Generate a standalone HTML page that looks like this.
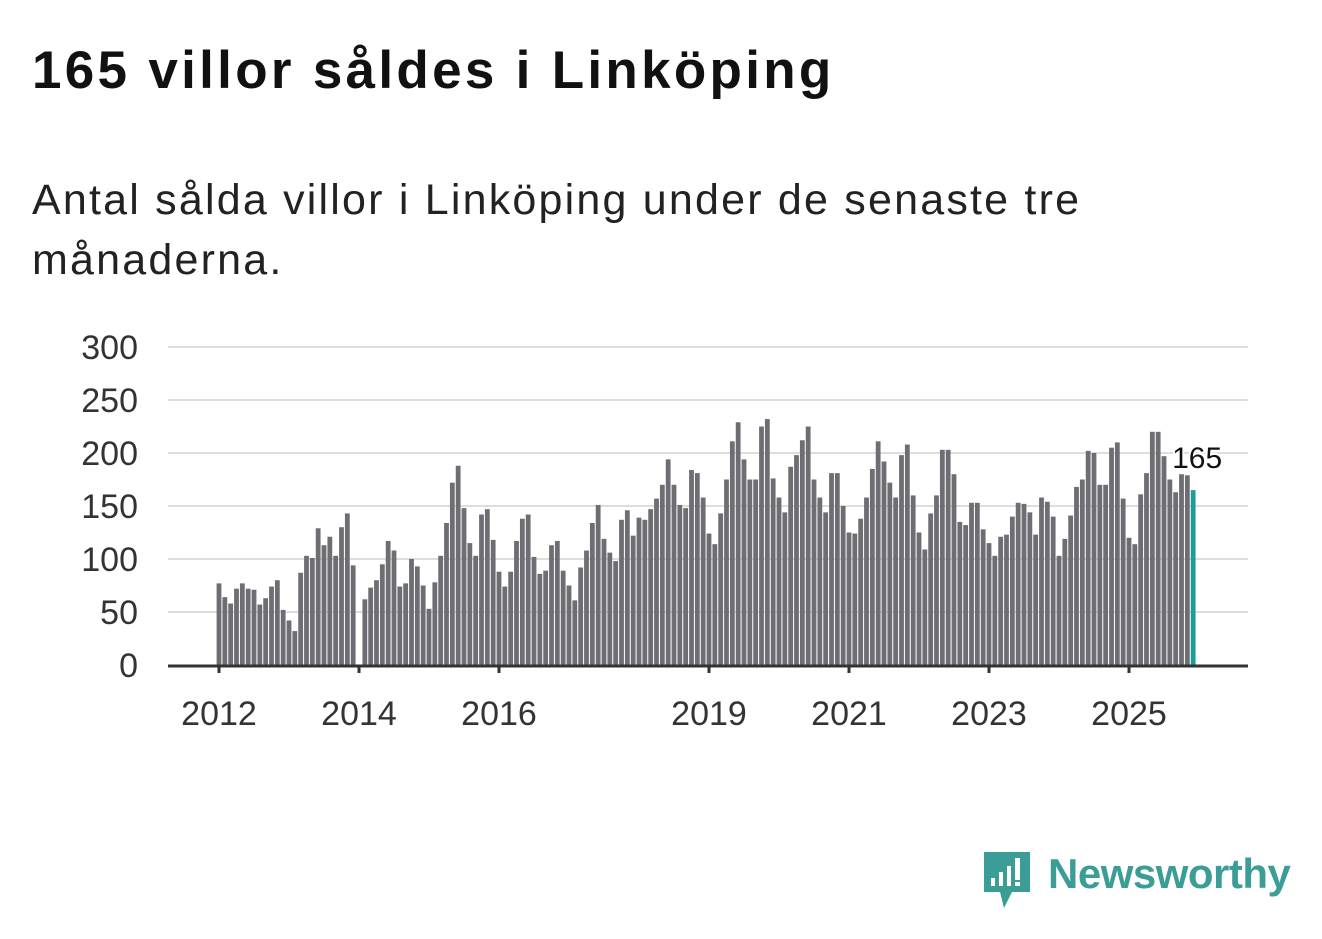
<!DOCTYPE html>
<html><head><meta charset="utf-8"><style>
body{margin:0;background:#fff;width:1322px;height:939px;overflow:hidden;font-family:"Liberation Sans","DejaVu Sans",sans-serif;}
#title{position:absolute;left:32px;top:40px;font-size:53px;font-weight:bold;color:#111;margin:0;letter-spacing:3.3px}
#sub{position:absolute;left:32px;top:170px;font-size:43px;color:#222;line-height:60px;width:1150px;letter-spacing:2.2px}
</style></head><body>
<h1 id="title">165 villor såldes i Linköping</h1>
<div id="sub">Antal sålda villor i Linköping under de senaste tre<br>månaderna.</div>
<svg id="chart" width="1322" height="939" style="position:absolute;left:0;top:0"></svg>
<div style="position:absolute;left:982px;top:850px;height:60px;width:320px">
<svg width="50" height="60" style="position:absolute;left:0;top:0">
<path d="M2 2h46v40H30l-8 16-4-16H2z" fill="#3a9e97"/>
<rect x="9" y="28" width="4" height="8" fill="#fff"/><rect x="17" y="22" width="4" height="14" fill="#fff"/><rect x="25" y="16" width="4" height="20" fill="#fff"/><rect x="33" y="8" width="5" height="22" fill="#fff"/><rect x="33" y="32" width="5" height="4" fill="#fff"/>
</svg>
<span style="position:absolute;left:66px;top:0;font-size:42px;font-weight:bold;color:#3a9e97;letter-spacing:-0.5px">Newsworthy</span>
</div>
<script>
const years=[2012,2013,2014,2015,2016,2017,2018,2019,2020,2021,2022,2023,2024,2025];
const values=[
77,64,58,72,77,72,71,57,63,74,80,52,
42,32,87,103,101,129,113,121,103,130,143,94,
null,62,73,80,95,117,108,74,77,100,93,75,
53,78,103,134,172,188,148,115,103,142,147,118,
88,74,88,117,138,142,102,86,89,113,117,89,
75,61,92,108,134,151,119,106,98,137,146,122,
139,137,147,157,170,194,170,151,148,184,181,158,
124,114,143,175,211,229,194,175,175,225,232,176,
158,144,187,198,212,225,175,158,144,181,181,150,
125,124,138,158,185,211,192,172,158,198,208,160,
125,109,143,160,203,203,180,135,132,153,153,128,
115,103,121,123,140,153,152,144,123,158,154,140,
103,119,141,168,175,202,200,170,170,205,210,157,
120,114,161,181,220,220,197,175,163,180,179,165];
const yTicks=[0,50,100,150,200,250,300];
const xTickYears=[2012,2014,2016,2019,2021,2023,2025];
const svg=document.getElementById('chart');
const NS='http://www.w3.org/2000/svg';
const x0=219,stepM=70/12,y0=665,k=(665-347)/300;
const xm=i=>x0+i*stepM;
const y=v=>y0-v*k;
function mk(t,a){const e=document.createElementNS(NS,t);for(const n in a)e.setAttribute(n,a[n]);svg.appendChild(e);return e;}
yTicks.forEach(v=>{
 if(v>0){const g=mk('line',{x1:168,x2:1248,y1:y(v),y2:y(v),stroke:'#ddd','stroke-width':2});
 
 }
 const t=mk('text',{x:138,y:y(v)+12,'text-anchor':'end','font-size':34,fill:'#333'});
 t.textContent=v;
 
 
});
values.forEach((v,i)=>{
 if(v==null)return;
 const last=i===values.length-1;
 const r=mk('rect',{x:xm(i)-2.4,y:y(v),width:4.8,height:v*k,fill:last?'#1a9e96':'#6e6d74'});
 
 
});
const ax=mk('line',{x1:168,x2:1248,y1:y0+1,y2:y0+1,stroke:'#333','stroke-width':3});


xTickYears.forEach(yr=>{
 const xx=xm((yr-years[0])*12);
 const tk=mk('line',{x1:xx,x2:xx,y1:y0,y2:y0+8,stroke:'#333','stroke-width':3});
 
 
 const t=mk('text',{x:xx,y:725,'text-anchor':'middle','font-size':34,fill:'#333'});
 t.textContent=yr;
 
 
});
const li=values.length-1;
const lab=mk('text',{x:xm(li)+29,y:y(values[li])-22,'text-anchor':'end','font-size':30,fill:'#111',stroke:'#fff','stroke-width':4,'paint-order':'stroke'});
lab.textContent=values[li];


</script>
</body></html>
